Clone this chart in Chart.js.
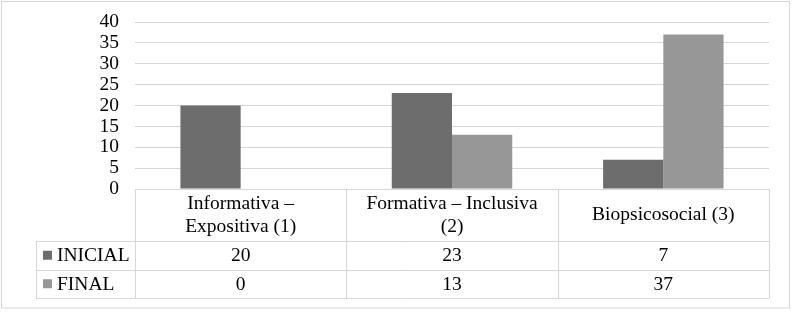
<!DOCTYPE html>
<html lang="es">
<head>
  <meta charset="UTF-8">
  <title>INICIAL vs FINAL</title>
  <script src="https://cdn.jsdelivr.net/npm/chart.js"></script>
  <style>
    body { margin: 0; background: #fff; }
    #wrap { position: relative; width: 793px; height: 312px; }
  </style>
</head>
<body>
<div id="wrap"><canvas id="chart" width="793" height="312"></canvas></div>

<script>
// categories (each one split into the lines shown in the table header)
const categories = [
  ["Informativa –", "Expositiva (1)"],
  ["Formativa – Inclusiva", "(2)"],
  ["Biopsicosocial (3)"]
];
const seriesNames = ["INICIAL", "FINAL"];
const inicial = [20, 23, 7];
const final = [0, 13, 37];
const yTicks = [0, 5, 10, 15, 20, 25, 30, 35, 40];

const seriesColors = ['#6d6d6d', '#979797'];
const lineColor = '#d6d6d6';
const font = '19.5px "Liberation Serif", "Times New Roman", serif';

// Excel-style data table under the plot, laid out on the x scale
const dataTable = {
  id: 'dataTable',
  beforeDraw(chart) {
    const ctx = chart.ctx;
    ctx.save();
    ctx.fillStyle = '#fff';
    ctx.fillRect(0, 0, chart.width, chart.height);
    ctx.strokeStyle = lineColor;
    ctx.lineWidth = 1;
    ctx.strokeRect(1.5, 1.5, 788, 306.5);
    ctx.restore();
  },
  afterDraw(chart) {
    const { ctx, chartArea } = chart;
    const x = chart.scales.x;
    const n = categories.length;
    const colW = (chartArea.right - chartArea.left) / n;
    const top = chartArea.bottom;
    const headBottom = top + 52;
    const rowH = 28.5;
    const keyLeft = 36;
    const rows = chart.data.datasets;
    const tableBottom = headBottom + rowH * rows.length;

    ctx.save();
    ctx.strokeStyle = lineColor;
    ctx.lineWidth = 1;
    ctx.beginPath();
    // header top
    ctx.moveTo(chartArea.left, Math.round(top) + 0.5);
    ctx.lineTo(chartArea.right, Math.round(top) + 0.5);
    // row lines
    for (let r = 0; r <= rows.length; r++) {
      const y = Math.round(headBottom + r * rowH) + 0.5;
      ctx.moveTo(keyLeft, y);
      ctx.lineTo(chartArea.right, y);
    }
    // column lines
    for (let i = 0; i <= n; i++) {
      const cx = Math.round(chartArea.left + i * colW) + 0.5;
      ctx.moveTo(cx, top);
      ctx.lineTo(cx, tableBottom);
    }
    ctx.moveTo(keyLeft + 0.5, headBottom);
    ctx.lineTo(keyLeft + 0.5, tableBottom);
    ctx.stroke();

    ctx.fillStyle = '#000';
    ctx.font = font;
    ctx.textAlign = 'center';
    ctx.textBaseline = 'middle';
    const lh = 23;
    categories.forEach((lines, i) => {
      const cx = x.getPixelForValue(i);
      const mid = (top + headBottom) / 2;
      const y0 = mid - (lines.length - 1) * lh / 2;
      lines.forEach((t, k) => ctx.fillText(t, cx, y0 + k * lh));
    });

    rows.forEach((ds, r) => {
      const cy = headBottom + r * rowH + rowH / 2;
      ctx.fillStyle = ds.backgroundColor;
      ctx.fillRect(keyLeft + 7, cy - 4.5, 9, 9);
      ctx.fillStyle = '#000';
      ctx.textAlign = 'left';
      ctx.fillText(ds.label, keyLeft + 21, cy + 1);
      ctx.textAlign = 'center';
      ds.data.forEach((v, i) => ctx.fillText(String(v), x.getPixelForValue(i), cy + 1));
    });
    ctx.restore();
  }
};

new Chart(document.getElementById('chart'), {
  type: 'bar',
  data: {
    labels: categories.map(c => c.join(' ')),
    datasets: [
      { label: seriesNames[0], data: inicial, backgroundColor: seriesColors[0] },
      { label: seriesNames[1], data: final, backgroundColor: seriesColors[1] }
    ]
  },
  options: {
    responsive: false,
    animation: false,
    layout: { padding: { left: 0, right: 24, top: 22, bottom: 123 } },
    datasets: { bar: { categoryPercentage: 0.57, barPercentage: 1 } },
    plugins: { legend: { display: false }, tooltip: { enabled: false } },
    scales: {
      x: { display: false },
      y: {
        min: 0,
        max: 40,
        afterFit: s => { s.width = 135; s.paddingTop = 0; s.paddingBottom = 0; },
        afterBuildTicks: s => { s.ticks = yTicks.map(v => ({ value: v })); },
        border: { display: false },
        grid: { color: lineColor, lineWidth: 1, drawTicks: false },
        ticks: { autoSkip: false, padding: 16, color: '#000', font: { family: '"Liberation Serif"', size: 19.5 } }
      }
    }
  },
  plugins: [dataTable]
});
</script>
</body>
</html>
